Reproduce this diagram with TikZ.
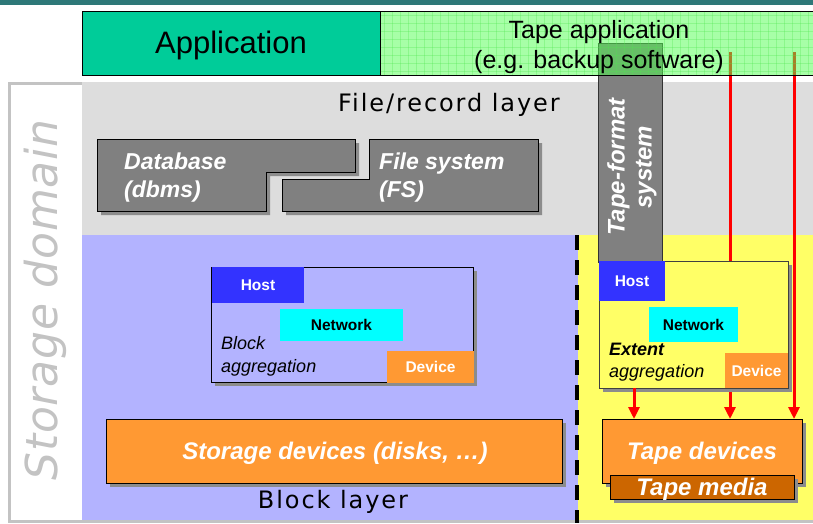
\documentclass[tikz,border=0pt]{standalone}
\usepackage{fontspec}
\setmainfont{Liberation Sans}
\newfontfamily\widefont[LetterSpace=8]{DejaVu Sans}
\newfontfamily\domfont[LetterSpace=2]{DejaVu Sans}
\usetikzlibrary{arrows.meta,shadows}
\definecolor{topbar}{RGB}{46,120,120}
\definecolor{appgreen}{RGB}{0,204,153}
\definecolor{tapegreen}{RGB}{80,255,80}
\definecolor{gridgreen}{RGB}{80,230,80}
\definecolor{filegray}{RGB}{221,221,221}
\definecolor{lavender}{RGB}{179,179,255}
\definecolor{tapeyellow}{RGB}{255,255,102}
\definecolor{boxgray}{RGB}{128,128,128}
\definecolor{shadowgray}{RGB}{140,140,140}
\definecolor{hostblue}{RGB}{51,51,255}
\definecolor{netcyan}{RGB}{0,255,255}
\definecolor{devorange}{RGB}{255,153,51}
\definecolor{mediaorange}{RGB}{204,102,0}
\definecolor{framegray}{RGB}{195,195,195}
\begin{document}
\begin{tikzpicture}[x=1pt,y=-1pt,
  box/.style={draw, inner sep=0pt, outer sep=0pt, anchor=north west, line width=1pt},
  plain/.style={inner sep=0pt, outer sep=0pt, anchor=north west},
  shad/.style={drop shadow={shadow xshift=4pt, shadow yshift=-4pt, fill=shadowgray, opacity=1}},
  biglbl/.style={text=white, font=\bfseries\itshape\fontsize{24}{28}\selectfont},
  dblbl/.style={text=white, align=left, anchor=west, inner sep=0pt, font=\bfseries\itshape\fontsize{23}{28}\selectfont},
  tag/.style={font=\bfseries\fontsize{15.5}{18}\selectfont},
  redarrow/.style={draw=red, line width=3pt, -{Triangle[width=11pt,length=12pt]}}
]
\useasboundingbox (0,0) rectangle (813,523);
\fill[white] (0,0) rectangle (813,523);
% top bar
\node[plain, fill=topbar, minimum width=813pt, minimum height=5pt] (bar) at (0,0) {};
% storage domain frame
\node[plain, draw=framegray, line width=3pt, minimum width=820pt, minimum height=438pt] (frame) at (9.5,83.5) {};
% layers
\node[plain, fill=filegray, minimum width=731pt, minimum height=153pt] (filelayer) at (82,82) {};
\node[plain, fill=lavender, minimum width=496pt, minimum height=285pt] (blocklayer) at (82,235) {};
\node[plain, fill=tapeyellow, minimum width=235pt, minimum height=285pt] (tapelayer) at (578,235) {};
\coordinate (dtop) at (577,235);
\coordinate (dbot) at (577,523);
\draw[line width=4pt, dash pattern=on 15pt off 10pt] (dtop) -- (dbot);
% labels
\node[font=\widefont\fontsize{24}{28}\selectfont] (filelbl) at (449,105) {File/record layer};
\node[font=\widefont\fontsize{24}{28}\selectfont] (blocklbl) at (333,502) {Block layer};
\node[rotate=90, text=framegray, font=\domfont\itshape\fontsize{44}{48}\selectfont] (domain) at (45,300) {Storage domain};
% database and file system
\fill[shadowgray, shift={(4,4)}] (97,139) -- (355,139) -- (355,172) -- (266,172) -- (266,211) -- (97,211) -- cycle;
\draw[fill=boxgray, line width=1pt] (97,139) -- (355,139) -- (355,172) -- (266,172) -- (266,211) -- (97,211) -- cycle;
\fill[shadowgray, shift={(4,4)}] (369,139) -- (538,139) -- (538,211) -- (282,211) -- (282,179) -- (369,179) -- cycle;
\draw[fill=boxgray, line width=1pt] (369,139) -- (538,139) -- (538,211) -- (282,211) -- (282,179) -- (369,179) -- cycle;
\node[dblbl] (db) at (124,178) {Database\\(dbms)};
\node[dblbl] (fs) at (379,178) {File system\\(FS)};
% block aggregation
\node[box, shad, fill=lavender, minimum width=262pt, minimum height=115pt] (blockagg) at (211,267) {};
\node[plain, fill=hostblue, text=white, tag, minimum width=92pt, minimum height=36pt] (host1) at (212,267) {Host};
\node[plain, fill=netcyan, tag, minimum width=123pt, minimum height=32pt] (net1) at (280,309) {Network};
\node[plain, fill=devorange, text=white, tag, minimum width=87pt, minimum height=32pt] (dev1) at (387,351) {Device};
\node[anchor=west, align=left, inner sep=0pt, font=\itshape\fontsize{18}{23}\selectfont] (blockagglbl) at (221,356) {Block\\aggregation};
% storage devices
\node[box, shad, fill=devorange, minimum width=456pt, minimum height=64pt] (storage) at (106,419) {};
\node[biglbl] (storagelbl) at (335,453) {Storage devices (disks, \dots)};
% tape devices
\node[box, shad, fill=devorange, minimum width=200pt, minimum height=64pt] (tapedev) at (602,419) {};
\node[biglbl] (tapedevlbl) at (702,453) {Tape devices};
\node[box, shad, fill=mediaorange, minimum width=184pt, minimum height=24pt] (media) at (610,475) {};
\node[biglbl] (medialbl) at (702,489) {Tape media};
% tape-format system
\node[box, fill=boxgray, draw=black!80, minimum width=64pt, minimum height=219pt] (tfs) at (598,43) {};
\node[rotate=90, align=center, text=white, font=\bfseries\itshape\fontsize{24}{27}\selectfont] (tfslbl) at (632,167) {Tape-format\\system};
% red arrows from tape application
\coordinate (r1) at (730,52);
\coordinate (r2) at (794,52);
\draw[redarrow] (r1) -- (tapedev.north -| r1);
\draw[redarrow] (r2) -- (tapedev.north -| r2);
% extent aggregation
\node[box, shad, fill=tapeyellow, draw=black!75, minimum width=189pt, minimum height=127pt] (extagg) at (599,261) {};
\node[plain, fill=hostblue, text=white, tag, minimum width=66pt, minimum height=40pt] (host2) at (599,261) {Host};
\node[plain, fill=netcyan, tag, minimum width=89pt, minimum height=35pt] (net2) at (649,307) {Network};
\node[plain, fill=devorange, text=white, tag, minimum width=63pt, minimum height=35pt] (dev2) at (725,353) {Device};
\node[anchor=west, align=left, inner sep=0pt, font=\itshape\fontsize{18}{22}\selectfont] (extlbl) at (609,362) {\textbf{Extent}\\aggregation};
\coordinate (r3) at (634,300);
\draw[redarrow] (extagg.south -| r3) -- (tapedev.north -| r3);
% application boxes
\node[box, fill=appgreen, minimum width=298pt, minimum height=64pt] (app) at (82,11) {};
\node[font=\fontsize{31}{36}\selectfont] (applbl) at (231,45) {Application};
\fill[tapegreen, fill opacity=0.5] (380,11) rectangle (816,75);
\begin{scope}
\clip (380,11) rectangle (816,75);
\foreach \gx in {384,392,...,816} \draw[gridgreen, line width=0.6pt, opacity=0.3] (\gx,11) -- (\gx,75);
\foreach \gy in {15,23,...,75} \draw[gridgreen, line width=0.6pt, opacity=0.3] (380,\gy) -- (816,\gy);
\end{scope}
\node[box, minimum width=436pt, minimum height=64pt] (tapeapp) at (380,11) {};
\node[align=center, font=\fontsize{25}{30}\selectfont] (tapeapplbl) at (599,47) {Tape application\\(e.g. backup software)};
\end{tikzpicture}
\end{document}
